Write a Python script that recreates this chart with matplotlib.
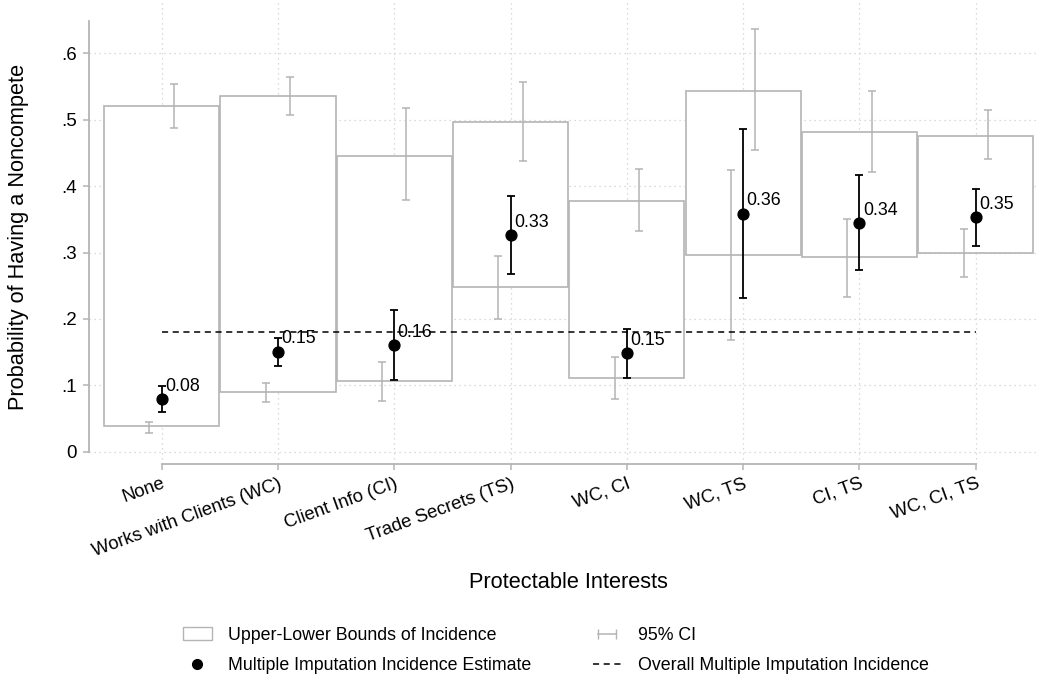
import matplotlib
matplotlib.use("Agg")
import matplotlib.pyplot as plt
import numpy as np
from matplotlib.patches import Rectangle
from matplotlib.lines import Line2D
from matplotlib.legend_handler import HandlerLine2D

plt.rcParams["font.family"] = ["Liberation Sans", "DejaVu Sans"]

categories = [
    "None",
    "Works with Clients (WC)",
    "Client Info (CI)",
    "Trade Secrets (TS)",
    "WC, CI",
    "WC, TS",
    "CI, TS",
    "WC, CI, TS",
]

# bounds of incidence (box)
lower_bound = [0.038, 0.090, 0.106, 0.248, 0.111, 0.297, 0.293, 0.300]
upper_bound = [0.520, 0.535, 0.446, 0.497, 0.378, 0.544, 0.482, 0.476]

# 95% CI around the upper bound
upper_ci_lo = [0.488, 0.507, 0.379, 0.438, 0.332, 0.454, 0.421, 0.441]
upper_ci_hi = [0.554, 0.564, 0.517, 0.557, 0.426, 0.636, 0.544, 0.514]

# 95% CI around the lower bound
lower_ci_lo = [0.028, 0.075, 0.076, 0.200, 0.080, 0.168, 0.233, 0.263]
lower_ci_hi = [0.045, 0.104, 0.135, 0.295, 0.142, 0.424, 0.351, 0.336]

# multiple imputation estimate
estimate = [0.079, 0.150, 0.160, 0.326, 0.148, 0.358, 0.344, 0.353]
est_lo = [0.060, 0.129, 0.108, 0.268, 0.111, 0.232, 0.273, 0.310]
est_hi = [0.099, 0.171, 0.213, 0.385, 0.185, 0.486, 0.416, 0.395]

overall = 0.18

yticks = [0, 0.1, 0.2, 0.3, 0.4, 0.5, 0.6]
ytick_labels = ["0", ".1", ".2", ".3", ".4", ".5", ".6"]

GREY = "#b4b4b4"
GRID = "#cfcfcf"

x = np.arange(len(categories))
lower_bound = np.array(lower_bound)
upper_bound = np.array(upper_bound)
estimate = np.array(estimate)

fig = plt.figure(figsize=(10.37, 6.79), dpi=100)
ax = fig.add_axes([89.3 / 1037, 1 - 464 / 679, 1 - 89.3 / 1037, 464 / 679])

# grid
for yv in yticks:
    ax.axhline(yv, color=GRID, linestyle=(0, (1, 3)), linewidth=0.9, zorder=0)
for xv in x:
    ax.axvline(xv, color=GRID, linestyle=(0, (1, 3)), linewidth=0.9, zorder=0)

# boxes (white fill hides the grid)
ax.bar(
    x,
    upper_bound - lower_bound,
    bottom=lower_bound,
    width=0.99,
    facecolor="white",
    edgecolor=GREY,
    linewidth=1.2,
    zorder=1,
)

# grey CIs
ax.errorbar(
    x + 0.105,
    upper_bound,
    yerr=[upper_bound - np.array(upper_ci_lo), np.array(upper_ci_hi) - upper_bound],
    fmt="none",
    ecolor=GREY,
    elinewidth=1.1,
    capsize=2.8,
    capthick=1.1,
    zorder=2,
)
ax.errorbar(
    x - 0.105,
    lower_bound,
    yerr=[lower_bound - np.array(lower_ci_lo), np.array(lower_ci_hi) - lower_bound],
    fmt="none",
    ecolor=GREY,
    elinewidth=1.1,
    capsize=2.8,
    capthick=1.1,
    zorder=2,
)

# overall dashed line
ax.hlines(overall, x[0], x[-1], colors="black", linestyles=(0, (4, 3)),
          linewidth=1.1, zorder=3)

# estimates
ax.errorbar(
    x,
    estimate,
    yerr=[estimate - np.array(est_lo), np.array(est_hi) - estimate],
    fmt="o",
    color="black",
    markersize=7.8,
    elinewidth=1.3,
    capsize=2.8,
    capthick=1.3,
    zorder=4,
)

for xi, v in zip(x, estimate):
    ax.annotate(
        f"{v:.2f}",
        (xi, v),
        xytext=(2.5, 9.5),
        textcoords="offset points",
        ha="left",
        va="center",
        fontsize=12.8,
        zorder=5,
    )

ax.set_xlim(-0.6226, 7.527)
ax.set_ylim(-0.0185, 0.6803)

for side in ["top", "right"]:
    ax.spines[side].set_visible(False)
ax.spines["left"].set_bounds(0, 0.649)
ax.spines["bottom"].set_bounds(0, 7)
for side in ["left", "bottom"]:
    ax.spines[side].set_color(GREY)
    ax.spines[side].set_linewidth(1.3)

ax.set_yticks(yticks)
ax.set_yticklabels(ytick_labels, fontsize=13.5)
ax.set_xticks(x)
ax.set_xticklabels(categories, fontsize=13.3, rotation=20, ha="right",
                   rotation_mode="anchor")
ax.tick_params(axis="both", color=GREY, length=4, width=1.1)
ax.tick_params(axis="y", pad=5)
ax.tick_params(axis="x", pad=4)

ax.set_ylabel("Probability of Having a Noncompete", fontsize=15.7)
ax.yaxis.set_label_coords(-0.064, 0.49)
ax.set_xlabel("Protectable Interests", fontsize=15.7)
ax.xaxis.set_label_coords(0.506, -0.233)

# legend
box_handle = Rectangle((0, 0), 1, 1, facecolor="white", edgecolor=GREY, linewidth=1.0)
dot_handle = Line2D([], [], marker="o", color="black", linestyle="none", markersize=7)
ci_handle = Line2D([], [], color=GREY, marker="|", markersize=7, linewidth=1.1)
dash_handle = Line2D([], [], color="black", linestyle=(0, (4, 3)), linewidth=1.1)

fig.legend(
    [box_handle, dot_handle, ci_handle, dash_handle],
    [
        "Upper-Lower Bounds of Incidence",
        "Multiple Imputation Incidence Estimate",
        "95% CI",
        "Overall Multiple Imputation Incidence",
    ],
    handler_map={ci_handle: HandlerLine2D(numpoints=2)},
    ncol=2,
    loc="center",
    bbox_to_anchor=(0.536, 0.042),
    frameon=False,
    fontsize=12.8,
    handlelength=1.6,
    handletextpad=0.9,
    columnspacing=3.5,
    labelspacing=0.75,
)

fig.savefig("out.png", dpi=100)
